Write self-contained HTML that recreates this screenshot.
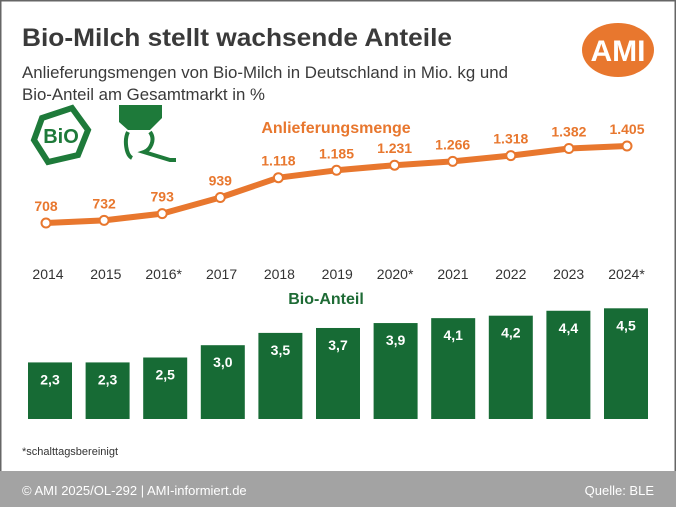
<!DOCTYPE html>
<html><head><meta charset="utf-8">
<style>
html,body{margin:0;padding:0;background:#fff;}
svg{display:block;font-family:"Liberation Sans",Arial,sans-serif;}
</style></head>
<body>
<svg id="chart" width="676" height="507" viewBox="0 0 676 507">
  <rect x="0" y="0" width="676" height="507" fill="#fff"/>
  <rect x="0.5" y="0.5" width="675" height="506" fill="none" stroke="#666" stroke-width="2"/>
  <text x="22" y="46" font-size="25" font-weight="bold" fill="#3a3a3a" textLength="430" lengthAdjust="spacingAndGlyphs">Bio-Milch stellt wachsende Anteile</text>
  <text x="22" y="78" font-size="17" fill="#3a3a3a" textLength="486" lengthAdjust="spacingAndGlyphs">Anlieferungsmengen von Bio-Milch in Deutschland in Mio. kg und</text>
  <text x="22" y="100" font-size="17" fill="#3a3a3a" textLength="243" lengthAdjust="spacingAndGlyphs">Bio-Anteil am Gesamtmarkt in %</text>
  <g>
    <ellipse cx="618" cy="50" rx="36" ry="27" fill="#e8772e"/>
    <text x="618" y="61" font-size="30" font-weight="bold" fill="#fff" text-anchor="middle">AMI</text>
  </g>
  <g>
    <polygon points="42,118 72,108 88,130 78,155 48,162 34,140" fill="none" stroke="#1e7a3a" stroke-width="6"/>
    <text x="61" y="143" font-size="20" font-weight="bold" fill="#1e7a3a" text-anchor="middle">BiO</text>
  </g>
  <g>
    <path d="M119 105 H162 V118 L150 130 H128 L119 122 Z" fill="#1e7a3a"/>
    <path d="M128 132 C124 140 126 155 132 158 M150 132 C156 140 150 150 144 152 L170 160 L176 160" fill="none" stroke="#1e7a3a" stroke-width="4"/>
  </g>
  <text x="336" y="133" font-size="16" font-weight="bold" fill="#e8772e" text-anchor="middle">Anlieferungsmenge</text>
  <g id="line-layer"></g>
  <g id="year-layer"></g>
  <text x="326" y="304" font-size="16" font-weight="bold" fill="#1e6b35" text-anchor="middle">Bio-Anteil</text>
  <g id="bar-layer"></g>
  <text x="22" y="455" font-size="11" fill="#333">*schalttagsbereinigt</text>
  <rect x="0" y="471" width="676" height="36" fill="#a3a3a3"/>
  <text x="22" y="495" font-size="13" fill="#fff">© AMI 2025/OL-292 | AMI-informiert.de</text>
  <text x="654" y="495" font-size="13" fill="#fff" text-anchor="end">Quelle: BLE</text>
</svg>
<script>
const years = ["2014","2015","2016*","2017","2018","2019","2020*","2021","2022","2023","2024*"];
const volumes = [708,732,793,939,1118,1185,1231,1266,1318,1382,1405];
const volumeLabels = ["708","732","793","939","1.118","1.185","1.231","1.266","1.318","1.382","1.405"];
const shares = [2.3,2.3,2.5,3.0,3.5,3.7,3.9,4.1,4.2,4.4,4.5];
const shareLabels = ["2,3","2,3","2,5","3,0","3,5","3,7","3,9","4,1","4,2","4,4","4,5"];

const NS = "http://www.w3.org/2000/svg";
function xLine(i){ return 46 + i*58.1; }
function yLine(v){ return 223 - (v-708)*0.1105; }
function xBar(i){ return 50 + i*57.6; }
function hBar(v){ return v*24.6; }
const barBase = 419, barW = 44;

function mk(tag, attrs, parent){
  const el = document.createElementNS(NS, tag);
  for (const k in attrs) el.setAttribute(k, attrs[k]);
  parent.appendChild(el);
  return el;
}
const lineLayer = document.getElementById('line-layer');
const yearLayer = document.getElementById('year-layer');
const barLayer = document.getElementById('bar-layer');

let d = "";
volumes.forEach((v,i)=>{ d += (i?"L":"M") + xLine(i) + " " + yLine(v) + " "; });
const path = mk('path', {d:d, fill:"none", stroke:"#e8772e", "stroke-width":6, "stroke-linejoin":"round"}, lineLayer);



volumes.forEach((v,i)=>{
  const c = mk('circle', {cx:xLine(i), cy:yLine(v), r:4.5, fill:"#fff", stroke:"#e8772e", "stroke-width":2}, lineLayer);
  
  
  const t = mk('text', {x:xLine(i), y:yLine(v)-12, "font-size":14, "font-weight":"bold", fill:"#e8772e", "text-anchor":"middle"}, lineLayer);
  t.textContent = volumeLabels[i];
  
  
});

years.forEach((y,i)=>{
  const t = mk('text', {x:(xLine(i)+xBar(i))/2, y:279, "font-size":14, fill:"#333", "text-anchor":"middle"}, yearLayer);
  t.textContent = y;
  
  
});

shares.forEach((v,i)=>{
  const h = hBar(v);
  const r = mk('rect', {x:xBar(i)-barW/2, y:barBase-h, width:barW, height:h, fill:"#176b35"}, barLayer);
  
  
  const t = mk('text', {x:xBar(i), y:barBase-h+22, "font-size":14, "font-weight":"bold", fill:"#fff", "text-anchor":"middle"}, barLayer);
  t.textContent = shareLabels[i];
  
  
});
</script>
</body></html>
